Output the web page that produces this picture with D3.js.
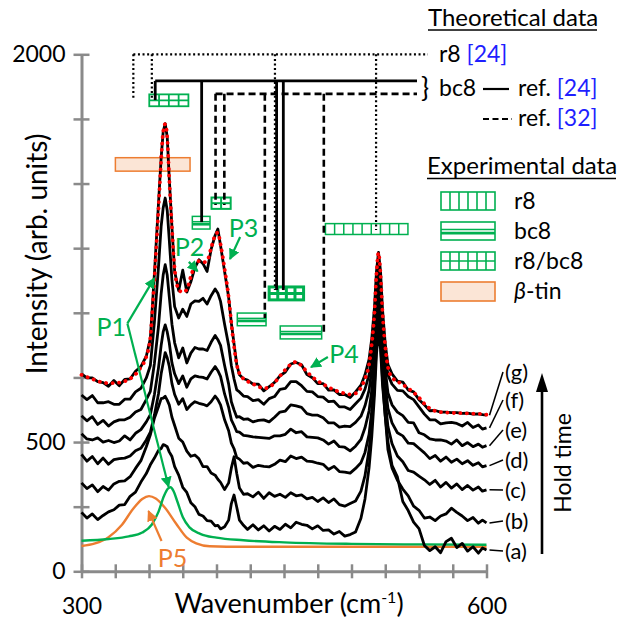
<!DOCTYPE html>
<html>
<head>
<meta charset="utf-8">
<title>Raman spectra vs hold time</title>
<script src="https://cdn.jsdelivr.net/npm/d3@7"></script>
<style>
  body { margin: 0; background: #fff; }
  svg text { font-family: Lato, "Open Sans", sans-serif; }
</style>
</head>
<body>
<svg id="chart" width="630" height="622"></svg>
<script>
// wavenumber grid (cm-1) shared by the measured spectra
var wn = [300,304,308,312,316,320,324,328,332,336,340,344,348,
  351,354,357,359,360.5,362,363.5,365,367,369,
  372,375,378,381,384,387,390,393,396,399,
  401,403,406,409,411,413,415,417,420,
  423,427,431,435,439,443,447,451,455,459,463,467,471,475,479,483,487,491,495,499,503,
  507,510,513,515,517,518.5,520,521.5,523,525,527,
  530,534,538,542,546,550,554,558,562,566,570,574,578,582,586,590,594,597,600];

// measured spectra, bottom (a) to top (g), arb. units
var specA = [228,206,222,200,216,230,238,256,258,290,306,345,378,
  412,438,468,475,490,487,482,462,444,405,
  372,325,305,265,250,220,214,196,194,176,
  178,164,172,198,262,295,248,198,178,
  162,180,160,176,156,174,162,182,168,190,182,178,164,176,158,160,144,154,136,142,152,
  205,280,400,520,680,840,930,860,720,600,500,
  410,365,270,235,190,165,100,80,95,72,115,128,92,108,78,95,70,90,82];
var specB = [342,320,334,308,328,314,338,348,350,366,398,428,482,
  528,592,636,668,670,677,662,644,596,564,
  515,500,465,445,450,435,405,405,380,372,
  356,344,316,342,400,443,378,322,298,
  300,288,306,282,304,290,298,286,304,292,296,280,286,270,284,266,280,258,252,262,272,
  310,370,470,570,720,880,990,890,740,600,470,
  400,352,318,292,252,236,206,210,196,214,222,244,228,214,196,208,186,198,187];
var specC = [452,426,444,416,438,414,432,436,438,446,466,476,508,
  538,604,686,764,806,846,826,794,726,684,
  646,668,626,644,656,650,646,640,656,678,
  664,644,586,544,496,474,440,434,418,
  420,402,410,406,404,414,430,424,446,436,442,426,424,418,414,394,406,386,384,380,398,
  420,460,530,620,760,920,1040,940,790,660,560,
  494,446,424,390,384,368,354,336,352,326,344,322,338,316,332,314,326,310,315];
var specD = [532,512,508,516,500,506,498,504,524,508,534,548,578,
  606,684,786,874,926,953,926,884,806,764,
  726,756,712,744,756,752,750,744,770,792,
  776,754,686,634,586,564,540,538,526,
  524,520,518,516,514,524,524,530,550,536,540,520,518,516,508,492,504,482,480,466,484,
  510,555,620,700,830,980,1090,990,840,720,630,
  574,536,524,496,494,476,458,436,448,426,442,422,434,416,428,410,420,404,409];
var specE = [602,582,598,568,584,562,578,586,586,596,616,626,664,
  696,804,946,1074,1146,1186,1146,1064,956,884,
  826,864,806,844,866,860,860,854,886,912,
  896,874,796,724,656,624,596,598,588,
  590,578,584,586,578,596,616,620,644,640,634,610,604,604,594,574,574,558,562,560,576,
  600,640,700,780,900,1040,1140,1050,900,780,690,
  644,616,602,576,574,536,528,512,508,508,504,492,508,486,498,482,492,480,486];
var specF = [682,664,680,652,652,656,646,646,666,666,694,708,748,
  796,964,1176,1334,1406,1444,1396,1284,1126,1024,
  980,1014,986,1034,1046,1044,1056,1034,1066,1092,
  1076,1044,956,874,796,744,702,694,678,
  676,660,664,646,668,676,704,708,734,734,718,696,694,676,674,656,658,636,636,626,648,
  670,705,760,840,960,1100,1190,1100,960,840,760,
  724,700,698,676,664,636,608,586,586,570,574,576,572,562,576,556,566,550,555];
var specG = [764,748,748,734,730,716,738,718,742,744,774,792,832,
  900,1150,1420,1600,1700,1732,1680,1520,1330,1160,
  1085,1165,1080,1120,1175,1205,1190,1160,1245,1300,
  1324,1260,1160,1060,960,880,800,760,745,
  740,724,724,698,714,731,756,771,802,808,799,761,749,726,726,701,702,684,684,672,694,
  720,760,820,900,1020,1160,1234,1160,1010,880,800,
  764,736,732,701,694,664,644,621,622,616,616,614,614,611,612,608,609,606,604];
// fit of spectrum (g) (red dots)
var fitG = [760,752,744,736,730,728,728,730,735,745,762,790,830,
  905,1130,1400,1590,1700,1730,1680,1520,1330,1170,
  1090,1080,1090,1140,1185,1200,1195,1200,1250,1300,
  1310,1265,1170,1060,960,870,800,765,745,
  735,725,715,708,712,730,755,780,800,810,795,772,752,736,724,712,702,694,688,684,688,
  710,745,800,880,1000,1150,1232,1150,1000,870,790,
  750,735,722,708,692,672,648,630,620,616,614,613,612,612,611,610,609,608,606];
var specNames = ["(a)","(b)","(c)","(d)","(e)","(f)","(g)"];

// fitted components P1 (green) and P5 (orange)
var p1Wn = [300,320,335,345,352,357,361,364,366,368,371,375,380,388,400,420,450,500,550,600];
var p1Val = [118,125,135,150,180,230,290,320,325,312,270,210,170,145,130,120,112,106,104,103];
var p5Wn = [300,310,320,330,338,345,350,355,362,370,378,385,395,420,500,600];
var p5Val = [98,108,132,180,240,280,291,282,245,185,130,108,97,95,95,95];

// theoretical mode positions: wavenumber and where each drop line stops
var r8Th24 = [338.4, 352.1, 443.3, 518.2];
var r8Th24End = [1823, 1823, 1088, 1320];
var bc8Th24 = [354.6, 389.0, 444.5, 449.5];
var bc8Th24End = [1823, 1351, 1088, 1088];
var bc8Th32 = [399.3, 405.8, 435.8, 479.5];
var bc8Th32End = [1417, 1417, 980, 922];

// experimental ranges [wn from, wn to, intensity low, intensity high]
var expR8 = [[480.7, 541.8, 1303, 1345]];
var expBc8 = [[382.1, 395.2, 1324, 1373], [415.4, 436.7, 950, 999], [447.2, 477.9, 899, 949]];
var expR8Bc8 = [[350.2, 379.2, 1799, 1845], [396.3, 410.5, 1402, 1446], [439.0, 464.5, 1050, 1100]];
var expBtin = [[325.1, 380.4, 1548, 1600]];

var yTicks = [0,250,500,750,1000,1250,1500,1750,2000];
var yTickLabels = [0, 500, 2000];
var xTicks = [300,325,350,375,400,425,450,475,500,525,550,575,600];
var xTickLabels = [300, 600];

var svg = d3.select("#chart");
var x = d3.scaleLinear().domain([300, 600]).range([81.5, 486.5]);
var y = d3.scaleLinear().domain([0, 2000]).range([571.3, 54.3]);
var green = "#00b050", orange = "#ed7d31", blue = "#1f1fff", gray = "#8a8a8a";

// green / orange markers
var defs = svg.append("defs");
[["ag", green], ["ao", orange]].forEach(function(m) {
  defs.append("marker").attr("id", m[0]).attr("viewBox", "0 0 10 10")
    .attr("refX", 9).attr("refY", 5).attr("markerUnits", "userSpaceOnUse")
    .attr("markerWidth", 11).attr("markerHeight", 11).attr("orient", "auto")
    .append("path").attr("d", "M0,0 L10,5 L0,10 z").attr("fill", m[1]);
});

// experimental boxes
function expBox(px0, px1, py0, py1, type, sw) {
  var w = px1 - px0, h = py1 - py0;
  var col = type === "btin" ? orange : green;
  var g = svg.append("g").attr("stroke", col).attr("stroke-width", sw).attr("fill", "none");
  g.append("rect").attr("x", px0).attr("y", py0).attr("width", w).attr("height", h)
    .attr("fill", type === "btin" ? "#fbe5d6" : "none");
  if (type === "r8" || type === "r8bc8") {
    var n = Math.max(2, Math.round(w / 9.5));
    for (var i = 1; i < n; i++) {
      g.append("line").attr("x1", px0 + i * w / n).attr("x2", px0 + i * w / n)
        .attr("y1", py0).attr("y2", py1);
    }
  }
  if (type === "bc8") {
    g.append("line").attr("x1", px0).attr("x2", px1)
      .attr("y1", py0 + h * 0.42).attr("y2", py0 + h * 0.42);
    g.append("line").attr("x1", px0).attr("x2", px1).attr("stroke-width", sw * 1.8)
      .attr("y1", py0 + h * 0.62).attr("y2", py0 + h * 0.62);
  }
  if (type === "r8bc8") {
    g.append("line").attr("x1", px0).attr("x2", px1)
      .attr("y1", py0 + h * 0.5).attr("y2", py0 + h * 0.5);
  }
}
function dataBoxes(list, type, sw) {
  list.forEach(function(b) { expBox(x(b[0]), x(b[1]), y(b[3]), y(b[2]), type, sw); });
}
dataBoxes(expBtin, "btin", 1.5);
dataBoxes(expR8, "r8", 1.5);
dataBoxes(expBc8, "bc8", 1.5);
expBox(x(expR8Bc8[0][0]), x(expR8Bc8[0][1]), y(expR8Bc8[0][3]), y(expR8Bc8[0][2]), "r8bc8", 1.8);
expBox(x(expR8Bc8[1][0]), x(expR8Bc8[1][1]), y(expR8Bc8[1][3]), y(expR8Bc8[1][2]), "r8bc8", 2);
expBox(x(expR8Bc8[2][0]), x(expR8Bc8[2][1]), y(expR8Bc8[2][3]), y(expR8Bc8[2][2]), "r8bc8", 3);

// theoretical lines
function theory(vals, ends, level, xEnd, sw, dash) {
  var g = svg.append("g").attr("stroke", "#000").attr("stroke-width", sw)
    .attr("stroke-dasharray", dash).attr("fill", "none");
  g.append("line").attr("x1", x(vals[0])).attr("x2", xEnd).attr("y1", y(level)).attr("y2", y(level));
  vals.forEach(function(v, i) {
    g.append("line").attr("x1", x(v)).attr("x2", x(v)).attr("y1", y(level)).attr("y2", y(ends[i]));
  });
}
theory(r8Th24, r8Th24End, 2000, 428, 2.2, "2,2.6");
theory(bc8Th24, bc8Th24End, 1897, 417, 2.8, null);
theory(bc8Th32, bc8Th32End, 1847, 417, 2.6, "7,4");

// axes
var yAxis = svg.append("g").attr("transform", "translate(" + x(300) + ",0)")
  .call(d3.axisLeft(y).tickValues(yTicks).tickSize(8).tickSizeOuter(0).tickPadding(8)
    .tickFormat(function(d) { return yTickLabels.indexOf(d) >= 0 ? d : ""; }));
yAxis.selectAll(".tick line").attr("x1", 8).attr("stroke", gray).attr("stroke-width", 2.5);
yAxis.select(".domain").attr("stroke", gray).attr("stroke-width", 3);
yAxis.selectAll("text").attr("font-size", 23).attr("fill", "#000");

var xAxis = svg.append("g").attr("transform", "translate(0," + y(0) + ")")
  .call(d3.axisBottom(x).tickValues(xTicks).tickSize(7).tickSizeOuter(0).tickPadding(19)
    .tickFormat(function(d) { return xTickLabels.indexOf(d) >= 0 ? d : ""; }));
xAxis.selectAll(".tick line").attr("y1", -7).attr("stroke", gray).attr("stroke-width", 2.5);
xAxis.select(".domain").attr("stroke", gray).attr("stroke-width", 3);
xAxis.selectAll("text").attr("font-size", 23).attr("fill", "#000");

// fitted components
var fitLine = d3.line().x(function(d) { return x(d[0]); }).y(function(d) { return y(d[1]); })
  .curve(d3.curveMonotoneX);
svg.append("path").attr("d", fitLine(d3.zip(p5Wn, p5Val)))
  .attr("fill", "none").attr("stroke", orange).attr("stroke-width", 2.4);
svg.append("path").attr("d", fitLine(d3.zip(p1Wn, p1Val)))
  .attr("fill", "none").attr("stroke", green).attr("stroke-width", 2.4);

// spectra
var specLine = d3.line().x(function(d) { return x(d[0]); }).y(function(d) { return y(d[1]); });
var spectra = [specA, specB, specC, specD, specE, specF, specG];
spectra.forEach(function(s) {
  svg.append("path").attr("d", specLine(d3.zip(wn, s)))
    .attr("fill", "none").attr("stroke", "#000").attr("stroke-width", 2.8)
    .attr("stroke-linejoin", "round");
});
svg.append("path").attr("d", fitLine(d3.zip(wn, fitG)))
  .attr("fill", "none").attr("stroke", "#ff0000").attr("stroke-width", 3.8)
  .attr("stroke-dasharray", "0.1,6.4").attr("stroke-linecap", "round");

// curve labels with leader lines
var labelY = [551, 521, 490, 460, 430, 400, 372];
spectra.forEach(function(s, i) {
  var ex = x(600) + 3, ey = y(s[s.length - 1]);
  svg.append("line").attr("x1", ex).attr("y1", ey).attr("x2", 503).attr("y2", labelY[i])
    .attr("stroke", "#000").attr("stroke-width", 1.5);
  svg.append("text").attr("x", 505).attr("y", labelY[i]).attr("dy", "0.35em")
    .attr("font-size", 22).text(specNames[i]);
});

// hold time arrow
svg.append("line").attr("x1", 542).attr("x2", 542).attr("y1", 554).attr("y2", 388)
  .attr("stroke", "#000").attr("stroke-width", 2.6);
svg.append("path").attr("d", "M536,392 L548,392 L542,373 z").attr("fill", "#000");
svg.append("text").attr("transform", "translate(571,463) rotate(-90)")
  .attr("text-anchor", "middle").attr("font-size", 23).text("Hold time");

// peak labels and arrows
var peakNames = ["P1", "P2", "P3", "P4", "P5"];
var peakTextPos = [[322, 945], [380, 1255], [420, 1328], [494.5, 840], [367.5, 52]];
var peakArrows = [[334, 959, 354, 1134], [334, 959, 364.5, 327], [379.5, 1197, 386, 1161],
  [417.5, 1293, 410, 1208], [482.5, 829, 470, 790], [359.3, 117, 349.6, 233]];
peakArrows.forEach(function(a, i) {
  var col = i === 5 ? orange : green;
  svg.append("line").attr("x1", x(a[0])).attr("y1", y(a[1])).attr("x2", x(a[2])).attr("y2", y(a[3]))
    .attr("stroke", col).attr("stroke-width", 2.2)
    .attr("marker-end", i === 5 ? "url(#ao)" : "url(#ag)");
});
peakNames.forEach(function(p, i) {
  svg.append("text").attr("x", x(peakTextPos[i][0])).attr("y", y(peakTextPos[i][1]))
    .attr("dy", "0.36em").attr("text-anchor", "middle").attr("font-size", 25)
    .attr("fill", i === 4 ? orange : green).text(p);
});

// axis titles
svg.append("text").attr("transform", "translate(47,254) rotate(-90)")
  .attr("text-anchor", "middle").attr("font-size", 28).text("Intensity (arb. units)");
var xt = svg.append("text").attr("x", 289).attr("y", 613).attr("text-anchor", "middle")
  .attr("font-size", 27);
xt.append("tspan").text("Wavenumber (cm");
xt.append("tspan").attr("dy", -10).attr("font-size", 16).text("-1");
xt.append("tspan").attr("dy", 10).text(")");

// theoretical legend
svg.append("text").attr("x", 428).attr("y", 26).attr("font-size", 24).text("Theoretical data");
svg.append("line").attr("x1", 428).attr("x2", 597).attr("y1", 30).attr("y2", 30)
  .attr("stroke", "#000").attr("stroke-width", 1.6);
var t1 = svg.append("text").attr("x", 439).attr("y", y(2000)).attr("dy", "0.35em").attr("font-size", 23);
t1.append("tspan").text("r8 ");
t1.append("tspan").attr("fill", blue).text("[24]");
svg.append("text").attr("x", 421).attr("y", 88).attr("dy", "0.35em").attr("font-size", 27).text("}");
svg.append("text").attr("x", 439).attr("y", 88).attr("dy", "0.35em").attr("font-size", 23).text("bc8");
svg.append("line").attr("x1", 483).attr("x2", 509).attr("y1", 89).attr("y2", 89)
  .attr("stroke", "#000").attr("stroke-width", 2.2);
var t2 = svg.append("text").attr("x", 518).attr("y", 88).attr("dy", "0.35em").attr("font-size", 23);
t2.append("tspan").text("ref. ");
t2.append("tspan").attr("fill", blue).text("[24]");
svg.append("line").attr("x1", 483).attr("x2", 512).attr("y1", 119).attr("y2", 119)
  .attr("stroke", "#000").attr("stroke-width", 2.2).attr("stroke-dasharray", "6,3.5");
var t3 = svg.append("text").attr("x", 518).attr("y", 118).attr("dy", "0.35em").attr("font-size", 23);
t3.append("tspan").text("ref. ");
t3.append("tspan").attr("fill", blue).text("[32]");

// experimental legend
svg.append("text").attr("x", 427).attr("y", 174).attr("font-size", 24).text("Experimental data");
svg.append("line").attr("x1", 427).attr("x2", 616).attr("y1", 178.5).attr("y2", 178.5)
  .attr("stroke", "#000").attr("stroke-width", 1.6);
var legTypes = ["r8", "bc8", "r8bc8", "btin"];
var legRows = [[192, 210], [222, 240], [252, 270], [282, 301]];
legTypes.forEach(function(t, i) {
  expBox(441, 495, legRows[i][0], legRows[i][1], t, 1.6);
});
var legText = svg.append("g").attr("font-size", 23);
legText.append("text").attr("x", 514).attr("y", 201).attr("dy", "0.35em").text("r8");
legText.append("text").attr("x", 514).attr("y", 231).attr("dy", "0.35em").text("bc8");
legText.append("text").attr("x", 514).attr("y", 261).attr("dy", "0.35em").text("r8/bc8");
var bt = legText.append("text").attr("x", 514).attr("y", 291).attr("dy", "0.35em");
bt.append("tspan").attr("font-style", "italic").text("β");
bt.append("tspan").text("-tin");
</script>
</body>
</html>
